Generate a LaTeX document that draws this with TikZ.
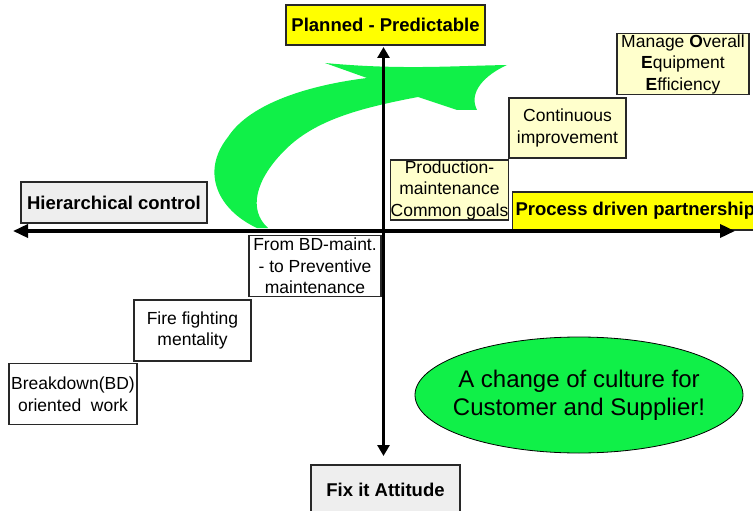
\documentclass[tikz,border=0pt]{standalone}
\usepackage{fontspec}
\setmainfont{Liberation Sans}
\usetikzlibrary{arrows.meta,shapes.geometric}
\definecolor{boxyellow}{RGB}{255,255,0}
\definecolor{paleyellow}{RGB}{255,255,204}
\definecolor{palegray}{RGB}{238,238,238}
\definecolor{shiftgreen}{RGB}{16,240,72}
\definecolor{edge}{RGB}{40,40,40}

\begin{document}
\begin{tikzpicture}[x=1pt,y=-1pt,
  card/.style={draw=edge, line width=1.1pt, inner sep=0pt, align=center,
    font=\fontsize{17.5}{21.5}\selectfont},
  keylabel/.style={card, font=\fontsize{18.5}{22}\selectfont\bfseries},
  axisline/.style={line width=3.5pt,
    {Triangle[length=15pt,width=13pt]}-{Triangle[length=15pt,width=13pt]}},
]
\clip (0,0) rectangle (753,511);

% sweeping arrow from fire fighting towards planned work
\fill[shiftgreen] (257,228)
  .. controls (218,210) and (200,172) .. (228,137)
  .. controls (250,103) and (310,85) .. (367,78)
  -- (325,63)
  .. controls (400,70) and (450,66) .. (507,65)
  .. controls (485,75) and (468,92) .. (477,110)
  -- (457,110) -- (418,97)
  .. controls (360,108) and (315,120) .. (285,150)
  .. controls (255,180) and (248,210) .. (268,228)
  -- cycle;

% axis labels
\node[keylabel, fill=boxyellow, minimum width=199pt, minimum height=40pt]
  (planned) at (385.5,25) {Planned - Predictable};
\node[keylabel, fill=palegray, minimum width=149pt, minimum height=50pt]
  (fixit) at (385.5,490) {Fix it Attitude};
\node[keylabel, fill=palegray, minimum width=186pt, minimum height=41pt]
  (hier) at (114,202.5) {Hierarchical control};
\node[keylabel, fill=boxyellow, anchor=west, minimum height=38pt, inner xsep=3pt]
  (process) at (512,211) {Process driven partnership};

% stages, upper right
\node[card, fill=paleyellow, minimum width=117pt, minimum height=60pt]
  (prod) at (449.5,190) {Production-\\maintenance\\Common goals};
\node[card, fill=paleyellow, minimum width=117pt, minimum height=60pt]
  (cont) at (567.5,128) {Continuous\\improvement};
\node[card, fill=paleyellow, minimum width=132pt, minimum height=61pt]
  (oee) at (683,64) {Manage \textbf{O}verall\\\textbf{E}quipment\\\textbf{E}fficiency};

% stages, lower left
\node[card, fill=white, minimum width=132pt, minimum height=61pt]
  (bdmaint) at (315,266) {From BD-maint.\\- to Preventive\\maintenance};
\node[card, fill=white, minimum width=117pt, minimum height=61pt]
  (fire) at (192.5,330.5) {Fire fighting\\mentality};
\node[card, fill=white, minimum width=128pt, minimum height=61pt]
  (breakdown) at (73,394) {Breakdown(BD)\\oriented\ \ work};

% message
\node[draw=black, line width=0.8pt, ellipse, fill=shiftgreen, inner sep=0pt,
  minimum width=328pt, minimum height=116pt]
  (culture) at (579,395) {};
\node[align=center, inner sep=0pt, font=\fontsize{24}{28}\selectfont]
  (culturetext) at (culture.center) {A change of culture for\\Customer and Supplier!};

% axes
\coordinate (axleft) at (13,231);
\coordinate (axright) at (735,231);
\coordinate (axtop) at (383.5,47);
\coordinate (axbottom) at (383.5,456);
\draw[axisline] (axleft) -- (axright);
\draw[line width=3.5pt,
  {Triangle[length=11pt,width=12pt]}-{Triangle[length=11pt,width=12pt]}]
  (axtop) -- (axbottom);
\end{tikzpicture}
\end{document}
